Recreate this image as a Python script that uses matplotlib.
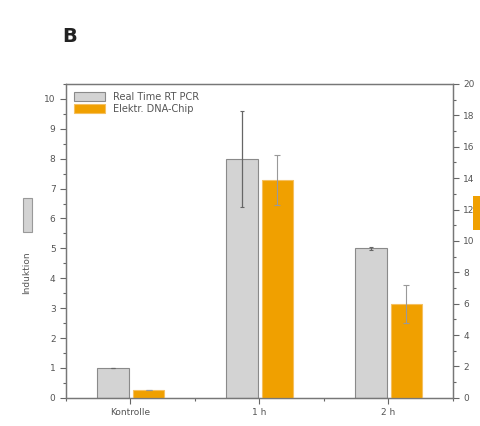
import matplotlib.pyplot as plt
from matplotlib.patches import Rectangle
from matplotlib.ticker import MultipleLocator
import numpy as np

# data
categories = ['Kontrolle', '1 h', '2 h']
pcr_values = [1.0, 8.0, 5.0]          # left axis
pcr_err = [0.0, 1.6, 0.05]
chip_values = [0.5, 13.9, 6.0]        # right axis
chip_err = [0.0, 1.6, 1.2]

gray = '#d3d3d3'
orange = '#f0a000'
txt = '#555555'

fig = plt.figure(figsize=(4.8, 4.26), dpi=100)
ax = fig.add_axes([0.1375, 0.066, 0.806, 0.737])
ax2 = ax.twinx()

x = np.arange(len(categories))
w = 0.245
ax.bar(x - 0.135, pcr_values, w, color=gray, edgecolor='#8a8a8a', linewidth=0.8,
       label='Real Time RT PCR', zorder=2)
ax.errorbar(x - 0.135, pcr_values, yerr=pcr_err, fmt='none', ecolor='#666666',
            elinewidth=0.9, capsize=1.5, capthick=0.8, zorder=3)
ax2.bar(x + 0.14, chip_values, w, color=orange, edgecolor='#f5c060', linewidth=0.8,
        label='Elektr. DNA-Chip', zorder=2)
ax2.errorbar(x + 0.14, chip_values, yerr=chip_err, fmt='none', ecolor='#999999',
             elinewidth=0.8, capsize=2, capthick=0.8, zorder=3)

ax.set_xlim(-0.5, 2.5)
ax.set_ylim(0, 10.5)
ax2.set_ylim(0, 20)
ax.set_xticks(x)
ax.set_xticklabels(categories)
ax.xaxis.set_minor_locator(MultipleLocator(0.5))
ax.yaxis.set_major_locator(MultipleLocator(1))
ax.yaxis.set_minor_locator(MultipleLocator(0.5))
ax2.yaxis.set_major_locator(MultipleLocator(2))
ax2.yaxis.set_minor_locator(MultipleLocator(1))

for a in (ax, ax2):
    a.tick_params(which='both', direction='out', colors='#666666', labelcolor=txt,
                  labelsize=6.5, width=0.8)
    a.tick_params(which='major', length=4)
    a.tick_params(which='minor', length=2)
    for s in a.spines.values():
        s.set_color('#777777')
        s.set_linewidth(0.9)

h1, l1 = ax.get_legend_handles_labels()
h2, l2 = ax2.get_legend_handles_labels()
ax.legend(h1 + h2, l1 + l2, loc='upper left', frameon=False, fontsize=7,
          labelcolor=txt, handlelength=3.2, handleheight=1.1,
          borderaxespad=0.4, labelspacing=0.2)

# y axis labels with colour boxes
fig.text(0.056, 0.36, 'Induktion', rotation=90, ha='center', va='center',
         fontsize=6.5, color=txt)
fig.patches.append(Rectangle((0.047, 0.455), 0.02, 0.08, transform=fig.transFigure,
                             facecolor=gray, edgecolor='#999999', linewidth=0.8))
fig.patches.append(Rectangle((0.985, 0.46), 0.02, 0.08, transform=fig.transFigure,
                             facecolor=orange, edgecolor='none'))

fig.text(0.145, 0.915, 'B', fontsize=14, fontweight='bold', ha='center', va='center',
         color='#222222')

fig.savefig('out.png', dpi=100)
